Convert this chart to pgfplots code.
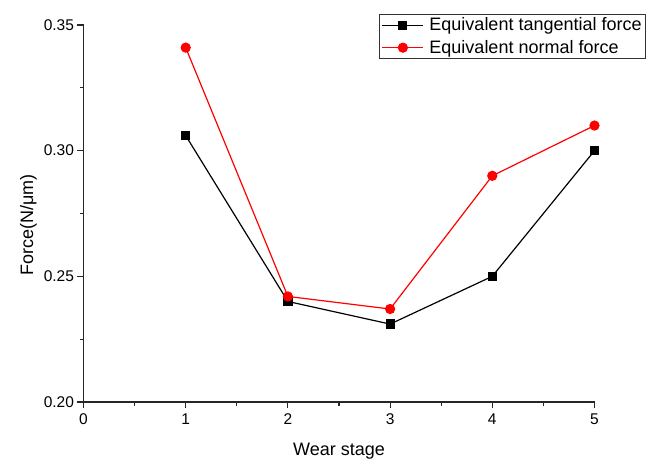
\documentclass[border=0pt]{standalone}
\usepackage{fontspec}
\setmainfont{Liberation Sans}
\usepackage{pgfplots}
\pgfplotsset{compat=1.18}
\begin{document}
\begin{tikzpicture}
\begin{axis}[name=ax, at={(0,0)}, anchor=south west,
  scale only axis, width=511bp, height=377bp,
  xmin=0, xmax=5, ymin=0.2, ymax=0.35,
  axis x line*=bottom, axis y line*=left,
  x axis line style={-}, y axis line style={-},
  axis line style={line width=1.3bp, black!85},
  xtick={0,1,2,3,4,5}, ytick={0.20,0.25,0.30,0.35},
  minor xtick={0.5,1.5,2.5,3.5,4.5}, minor ytick={0.225,0.275,0.325},
  tick align=outside, major tick length=6bp, minor tick length=3.5bp,
  every tick/.style={line width=1.1bp, black!85},
  /pgf/number format/assume math mode=true,
  yticklabel style={/pgf/number format/.cd, fixed, fixed zerofill, precision=2},
  tick label style={font=\fontsize{15.5bp}{18bp}\selectfont},
  xticklabel style={yshift=-2bp},
  xlabel={Wear stage}, ylabel={Force(N/μm)},
  label style={font=\fontsize{18bp}{21bp}\selectfont},
  xlabel style={at={(axis description cs:0.5,-0.1432)}, anchor=base},
  ylabel style={at={(axis description cs:-0.0988,0.4695)}, anchor=base},
  clip=false,
  legend style={at={(1.1008,1.0292)}, anchor=north east, draw=black!80, line width=0.8bp,
    font=\fontsize{18bp}{20bp}\selectfont, inner xsep=2bp, inner ysep=1.5bp, row sep=4bp, column sep=3.5bp},
  legend cell align=left,
  legend image code/.code={\draw[mark repeat=2,mark phase=2] plot coordinates {(0bp,0bp) (20.5bp,0bp) (41bp,0bp)};},
]
\addplot[black, line width=1.2bp, mark=square*, mark size=4bp, mark options={solid}] coordinates {
  (1,0.306) (2,0.240) (3,0.231) (4,0.250) (5,0.300)};
\addlegendentry{Equivalent tangential force}
\addplot[red, line width=1.2bp, mark=*, mark size=4.5bp, mark options={solid}] coordinates {
  (1,0.341) (2,0.242) (3,0.237) (4,0.290) (5,0.310)};
\addlegendentry{Equivalent normal force}
\end{axis}
\path ([shift={(-83.5bp,-57bp)}]ax.south west) rectangle ([shift={(60.5bp,25bp)}]ax.north east);
\end{tikzpicture}
\end{document}
